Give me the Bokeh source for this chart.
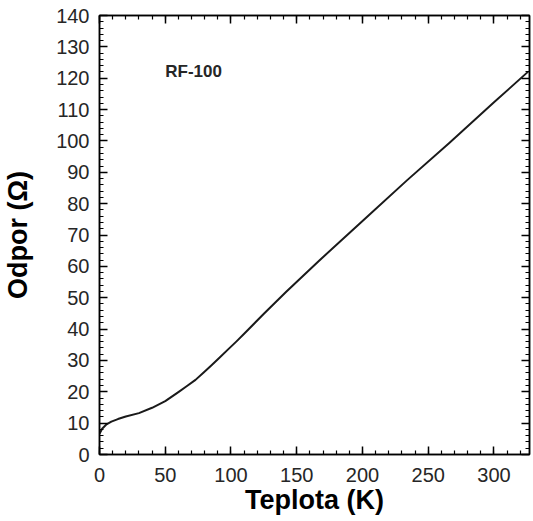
from bokeh.plotting import figure
from bokeh.models import (Range1d, LinearAxis, SingleIntervalTicker,
                          CustomJSTickFormatter, Label)
from bokeh.embed import file_html
from bokeh.resources import INLINE

# Resistance of an RF-100 (rhodium-iron) sensor versus temperature
temperature_k = [0, 2, 5, 9, 14, 20, 30, 40, 50, 60, 66, 73, 79, 85, 91, 98,
                 104, 110, 125, 142, 167, 205, 234, 266, 300, 326]
resistance_ohm = [6.6, 8.2, 9.5, 10.5, 11.3, 12.1, 13.2, 14.9, 17.0, 19.9,
                  21.7, 23.8, 26.1, 28.4, 30.8, 33.6, 36.0, 38.5, 44.9, 51.9,
                  61.8, 76.4, 87.5, 99.3, 112.3, 122.1]
sensor_name = "RF-100"
x_title = "Teplota (K)"
y_title = "Odpor (\u03a9)"

FONT = "Liberation Sans"

p = figure(width=533, height=521, output_backend="svg", toolbar_location=None,
           x_range=Range1d(0, 327), y_range=Range1d(0, 140),
           x_axis_location=None, y_axis_location=None,
           min_border_left=98, min_border_right=4,
           min_border_top=15, min_border_bottom=67)
p.background_fill_color = "white"
p.border_fill_color = "white"
p.outline_line_color = "black"
p.outline_line_width = 1.5
p.xgrid.visible = False
p.ygrid.visible = False


def style_axis(ax, major, labelled):
    ax.ticker = SingleIntervalTicker(interval=major, num_minor_ticks=5)
    ax.axis_line_color = "black"
    ax.axis_line_width = 1.5
    ax.major_tick_line_color = "black"
    ax.minor_tick_line_color = "black"
    ax.major_tick_line_width = 1.5
    ax.minor_tick_line_width = 1.2
    ax.major_tick_in = 8
    ax.major_tick_out = 0
    ax.minor_tick_in = 4
    ax.minor_tick_out = 0
    if labelled:
        ax.major_label_text_font = FONT
        ax.major_label_text_font_size = "20px"
        ax.major_label_text_color = "#262626"
    else:
        ax.formatter = CustomJSTickFormatter(code="return ''")
        ax.major_label_standoff = 0
        ax.major_label_text_font_size = "1px"


xb = LinearAxis(axis_label=x_title)
style_axis(xb, 50, True)
xb.major_label_standoff = 13
xb.axis_label_standoff = 0
xb.axis_label_text_font = FONT
xb.axis_label_text_font_size = "27px"
xb.axis_label_text_font_style = "bold"
xb.axis_label_text_color = "black"
p.add_layout(xb, "below")

yl = LinearAxis(axis_label=y_title)
style_axis(yl, 10, True)
yl.major_label_standoff = 10
yl.axis_label_standoff = 20
yl.axis_label_text_font = FONT
yl.axis_label_text_font_size = "27px"
yl.axis_label_text_font_style = "bold"
yl.axis_label_text_color = "black"
p.add_layout(yl, "left")

xt = LinearAxis()
style_axis(xt, 50, False)
p.add_layout(xt, "above")

yr = LinearAxis()
style_axis(yr, 10, False)
p.add_layout(yr, "right")

p.line(temperature_k, resistance_ohm, line_color="#1a1a1a", line_width=2,
       line_join="round")

p.add_layout(Label(x=50, y=122, text=sensor_name, text_font=FONT,
                   text_font_size="17px", text_font_style="bold",
                   text_color="#262626", text_baseline="middle"))

open("out.html", "w").write(file_html(p, INLINE))
